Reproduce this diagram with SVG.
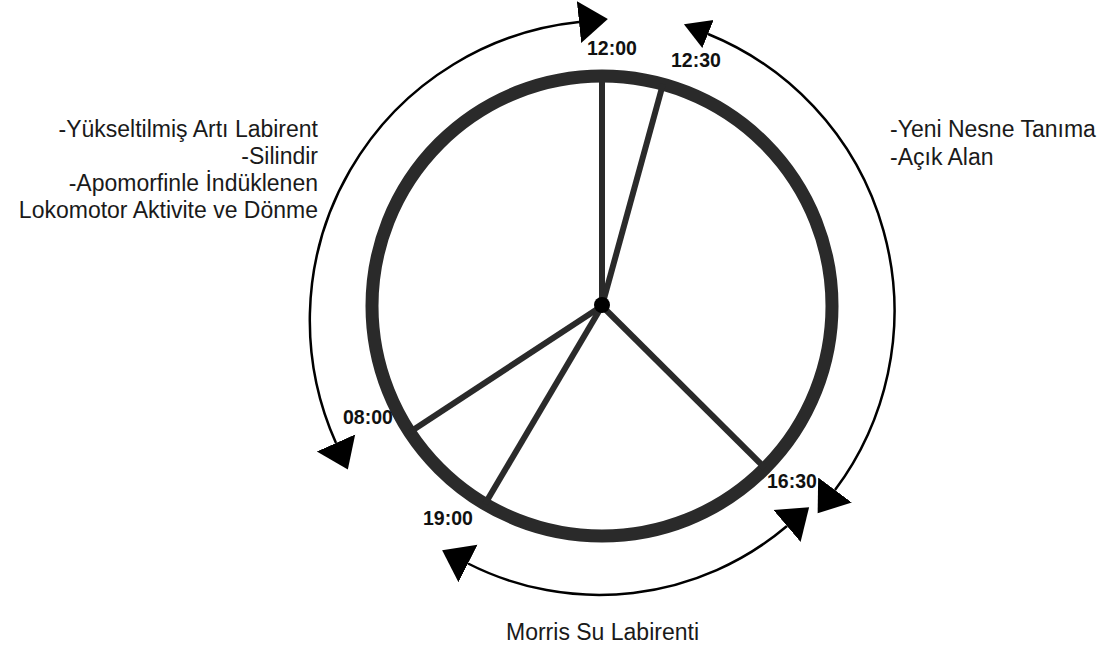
<svg xmlns="http://www.w3.org/2000/svg" width="1104" height="648" viewBox="0 0 1104 648">
<style>
.ring{fill:none;stroke:#2a2a2a;stroke-width:13}
.spoke{stroke:#2a2a2a;stroke-width:6;stroke-linecap:butt}
.arc{fill:none;stroke:#000;stroke-width:2.5}
.tm{font-family:"Liberation Sans",Arial,sans-serif;font-weight:bold;font-size:19.5px;fill:#111}
.lbl{font-family:"Liberation Sans",Arial,sans-serif;font-size:23px;fill:#1a1a1a}
</style>
<defs>
<marker id="ah" markerUnits="userSpaceOnUse" markerWidth="34" markerHeight="46" viewBox="0 -23 34 46" refX="0" refY="0" orient="auto-start-reverse">
<path d="M0,-21 L29,0 L0,21 Z" fill="#000"/>
</marker>
<marker id="ahs" markerUnits="userSpaceOnUse" markerWidth="30" markerHeight="34" viewBox="0 -17 30 34" refX="0" refY="0" orient="auto-start-reverse">
<path d="M0,-15 L26,0 L0,15 Z" fill="#000"/>
</marker>
</defs>
<rect width="1104" height="648" fill="#fff"/>
<g id="clock">
<circle class="ring" cx="602" cy="306" r="230"/>
<line class="spoke" x1="602" y1="306" x2="602" y2="76"/>
<line class="spoke" x1="602" y1="306" x2="663" y2="84"/>
<line class="spoke" x1="602" y1="306" x2="410" y2="432"/>
<line class="spoke" x1="602" y1="306" x2="485" y2="504"/>
<line class="spoke" x1="602" y1="306" x2="765" y2="468"/>
<circle cx="602" cy="305" r="8" fill="#000"/>
</g>
<g id="time-labels">
<text class="tm" x="587" y="55">12:00</text>
<text class="tm" x="671" y="67">12:30</text>
<text class="tm" x="343" y="424">08:00</text>
<text class="tm" x="423" y="525">19:00</text>
<text class="tm" x="767" y="488">16:30</text>
</g>
<g id="connectors">
<path class="arc" d="M579,22 A300,300 0 0 0 336,443" marker-start="url(#ah)" marker-end="url(#ah)"/>
<path class="arc" d="M708,34 A299,299 0 0 1 835,490" marker-start="url(#ahs)" marker-end="url(#ah)"/>
<path class="arc" d="M468,563.5 A290,290 0 0 0 787,526" marker-start="url(#ah)" marker-end="url(#ah)"/>
</g>
<g id="left-label">
<text class="lbl" text-anchor="end" x="318" y="137">-Yükseltilmiş Artı Labirent</text>
<text class="lbl" text-anchor="end" x="318" y="164">-Silindir</text>
<text class="lbl" text-anchor="end" x="318" y="191">-Apomorfinle İndüklenen</text>
<text class="lbl" text-anchor="end" x="318" y="218">Lokomotor Aktivite ve Dönme</text>
</g>
<g id="right-label">
<text class="lbl" x="890" y="137">-Yeni Nesne Tanıma</text>
<text class="lbl" x="890" y="165">-Açık Alan</text>
</g>
<g id="bottom-label">
<text class="lbl" x="506" y="640">Morris Su Labirenti</text>
</g>
</svg>
